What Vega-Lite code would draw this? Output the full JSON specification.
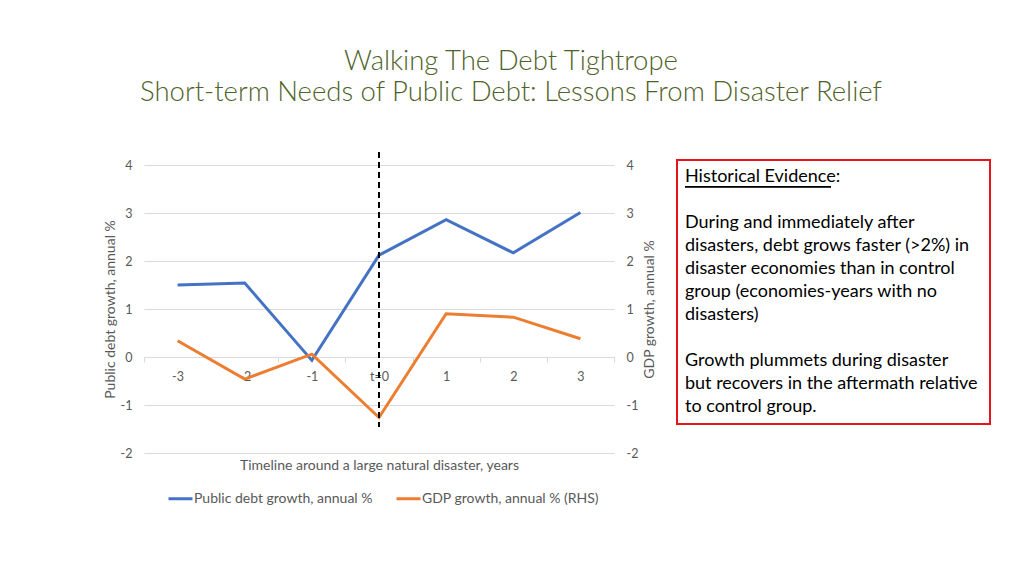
{
  "$schema": "https://vega.github.io/schema/vega-lite/v6.json",
  "padding": {"left": 103, "top": 47, "right": 0, "bottom": 0},
  "background": "white",
  "bounds": "flush",
  "spacing": 63,
  "config": {
    "view": {"stroke": null},
    "font": "Lato",
    "axis": {"labelColor": "#595959", "titleColor": "#595959", "titleFontWeight": "normal", "labelFontSize": 12.5, "titleFontSize": 14, "labelFont": "Lato", "titleFont": "Lato"},
    "legend": {"labelColor": "#595959", "labelFontSize": 14, "labelFont": "Lato", "labelLimit": 400}
  },
  "hconcat": [
    {
      "width": 470,
      "height": 288,
      "title": {
        "text": ["Walking The Debt Tightrope", "Short-term Needs of Public Debt: Lessons From Disaster Relief"],
        "anchor": "middle",
        "frame": "group",
        "dx": 132,
        "font": "Lato",
        "fontSize": 27.5,
        "fontWeight": 300,
        "color": "#4f6228",
        "lineHeight": 31,
        "offset": 45
      },
      "data": {
        "values": [
          {"t": "-3", "series": "Public debt growth, annual %", "value": 1.5},
          {"t": "-2", "series": "Public debt growth, annual %", "value": 1.54},
          {"t": "-1", "series": "Public debt growth, annual %", "value": -0.07},
          {"t": "t=0", "series": "Public debt growth, annual %", "value": 2.12},
          {"t": "1", "series": "Public debt growth, annual %", "value": 2.86},
          {"t": "2", "series": "Public debt growth, annual %", "value": 2.17},
          {"t": "3", "series": "Public debt growth, annual %", "value": 3.01},
          {"t": "-3", "series": "GDP growth, annual % (RHS)", "value": 0.34},
          {"t": "-2", "series": "GDP growth, annual % (RHS)", "value": -0.46},
          {"t": "-1", "series": "GDP growth, annual % (RHS)", "value": 0.06},
          {"t": "t=0", "series": "GDP growth, annual % (RHS)", "value": -1.26},
          {"t": "1", "series": "GDP growth, annual % (RHS)", "value": 0.9},
          {"t": "2", "series": "GDP growth, annual % (RHS)", "value": 0.83},
          {"t": "3", "series": "GDP growth, annual % (RHS)", "value": 0.38}
        ]
      },
      "encoding": {
        "x": {
          "field": "t",
          "type": "ordinal",
          "sort": null,
          "scale": {"type": "band", "domain": ["-3", "-2", "-1", "t=0", "1", "2", "3"], "paddingInner": 0, "paddingOuter": 0},
          "axis": {
            "title": "Timeline around a large natural disaster, years",
            "orient": "bottom",
            "offset": -96,
            "labelAngle": 0,
            "tickBand": "extent",
            "tickSize": 5,
            "tickColor": "#d9d9d9",
            "domainColor": "#d9d9d9",
            "labelPadding": 8,
            "titleY": 108,
            "titleBaseline": "middle"
          }
        }
      },
      "layer": [
        {
          "transform": [{"filter": "datum.series === 'Public debt growth, annual %'"}],
          "mark": {"type": "line", "strokeWidth": 3},
          "encoding": {
            "y": {
              "field": "value",
              "type": "quantitative",
              "scale": {"domain": [-2, 4], "nice": false, "zero": false},
              "axis": {"title": "Public debt growth, annual %", "values": [-2, -1, 0, 1, 2, 3, 4], "labelExpr": "'' + datum.value", "grid": true, "gridColor": "#d9d9d9", "ticks": false, "domain": false, "labelPadding": 12, "titlePadding": 3}
            },
            "color": {
              "field": "series",
              "type": "nominal",
              "scale": {"domain": ["Public debt growth, annual %", "GDP growth, annual % (RHS)"], "range": ["#4472c4", "#ed7d31"]},
              "legend": {"title": null, "orient": "none", "direction": "horizontal", "legendX": 23, "legendY": 320, "symbolType": "stroke", "symbolSize": 576, "symbolStrokeWidth": 3, "labelOffset": 0, "columnPadding": 17, "padding": 0}
            }
          }
        },
        {
          "transform": [{"filter": "datum.series === 'GDP growth, annual % (RHS)'"}],
          "mark": {"type": "line", "strokeWidth": 3},
          "encoding": {
            "y": {
              "field": "value",
              "type": "quantitative",
              "scale": {"domain": [-2, 4], "nice": false, "zero": false},
              "axis": {"title": "GDP growth, annual %", "orient": "right", "titleAngle": 270, "titleBaseline": "top", "values": [-2, -1, 0, 1, 2, 3, 4], "labelExpr": "'' + datum.value", "grid": false, "ticks": false, "domain": false, "labelPadding": 12, "titlePadding": 5}
            },
            "color": {"field": "series", "type": "nominal"}
          }
        },
        {
          "mark": {"type": "rule", "strokeDash": [6, 4], "strokeWidth": 2, "color": "black", "clip": false},
          "encoding": {
            "x": {"datum": "t=0", "type": "ordinal"},
            "y": {"datum": 4.27, "type": "quantitative", "scale": {"domain": [-2, 4], "nice": false, "zero": false}, "axis": null},
            "y2": {"datum": -1.46}
          }
        }
      ],
      "resolve": {"scale": {"y": "independent"}}
    },
    {
      "width": 313,
      "height": 259,
      "data": {
        "values": [
          {"line": 0, "text": "Historical Evidence:"},
          {"line": 2, "text": "During and immediately after"},
          {"line": 3, "text": "disasters, debt grows faster (>2%) in"},
          {"line": 4, "text": "disaster economies than in control"},
          {"line": 5, "text": "group (economies-years with no"},
          {"line": 6, "text": "disasters)"},
          {"line": 8, "text": "Growth plummets during disaster"},
          {"line": 9, "text": "but recovers in the aftermath relative"},
          {"line": 10, "text": "to control group."}
        ]
      },
      "layer": [
        {
          "mark": {"type": "rect", "fill": "white", "stroke": "#e8141b", "strokeWidth": 2, "clip": false},
          "encoding": {
            "x": {"datum": -8, "type": "quantitative", "scale": {"domain": [-8, 305], "nice": false, "zero": false}, "axis": null},
            "x2": {"datum": 305},
            "y": {"datum": -0.739, "type": "quantitative", "scale": {"domain": [-0.5217, 10.739], "range": [0, 259], "nice": false, "zero": false}, "axis": null},
            "y2": {"datum": 10.739}
          }
        },
        {
          "mark": {"type": "text", "align": "left", "baseline": "middle", "fontSize": 18, "font": "Lato", "color": "#000000"},
          "encoding": {
            "x": {"datum": 0, "type": "quantitative"},
            "y": {"field": "line", "type": "quantitative"},
            "text": {"field": "text"}
          }
        },
        {
          "mark": {"type": "rule", "color": "#000000", "strokeWidth": 1},
          "encoding": {
            "x": {"datum": 0, "type": "quantitative"},
            "x2": {"datum": 146},
            "y": {"datum": 0.42, "type": "quantitative"}
          }
        }
      ]
    }
  ]
}
